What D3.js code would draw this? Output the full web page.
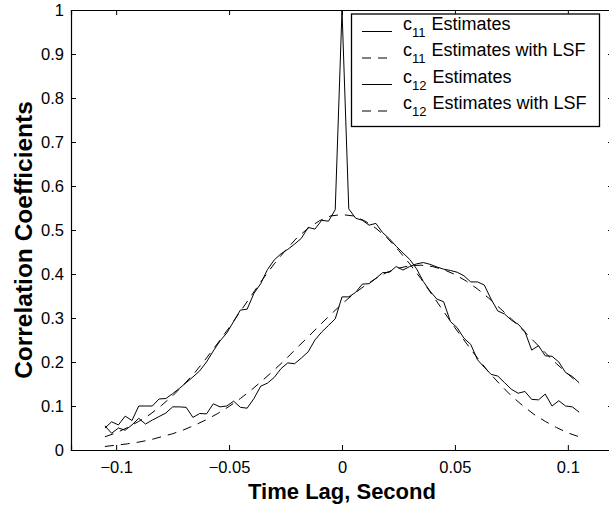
<!DOCTYPE html>
<html>
<head>
<meta charset="utf-8">
<script src="https://cdn.jsdelivr.net/npm/d3@7"></script>
<style>
  html, body { margin: 0; padding: 0; background: #fff; }
  svg { display: block; }
  text { font-family: "Liberation Sans", Arial, Helvetica, sans-serif; fill: #000; }
</style>
</head>
<body>
<svg id="chart" width="609" height="506"></svg>
<script>
// ---------- data ----------
const lags = [-0.105,-0.102,-0.099,-0.096,-0.093,-0.090,-0.087,-0.084,-0.081,-0.078,
  -0.075,-0.072,-0.069,-0.066,-0.063,-0.060,-0.057,-0.054,-0.051,-0.048,
  -0.045,-0.042,-0.039,-0.036,-0.033,-0.030,-0.027,-0.024,-0.021,-0.018,
  -0.015,-0.012,-0.009,-0.006,-0.003,0,
  0.003,0.006,0.009,0.012,0.015,0.018,0.021,0.024,0.027,0.030,
  0.033,0.036,0.039,0.042,0.045,0.048,0.051,0.054,0.057,0.060,
  0.063,0.066,0.069,0.072,0.075,0.078,0.081,0.084,0.087,0.090,
  0.093,0.096,0.099,0.102,0.105];

const c11Estimates = [0.050,0.064,0.057,0.077,0.067,0.100,0.100,0.100,0.116,0.117,
  0.128,0.140,0.153,0.166,0.180,0.200,0.225,0.248,0.266,0.292,
  0.318,0.320,0.356,0.378,0.410,0.432,0.446,0.456,0.468,0.481,
  0.506,0.502,0.522,0.520,0.546,1.000,
  0.548,0.527,0.522,0.511,0.515,0.494,0.480,0.463,0.448,0.433,
  0.412,0.383,0.361,0.343,0.337,0.292,0.278,0.254,0.240,0.205,
  0.188,0.172,0.168,0.153,0.138,0.129,0.133,0.115,0.114,0.127,
  0.100,0.112,0.100,0.098,0.086];

const c12Estimates = [0.055,0.038,0.050,0.045,0.057,0.072,0.059,0.068,0.076,0.084,
  0.098,0.098,0.097,0.074,0.083,0.082,0.105,0.098,0.100,0.111,
  0.097,0.095,0.117,0.145,0.152,0.165,0.185,0.198,0.196,0.209,
  0.223,0.250,0.268,0.283,0.298,0.348,
  0.348,0.358,0.377,0.378,0.390,0.403,0.404,0.417,0.409,0.417,
  0.423,0.426,0.422,0.416,0.411,0.408,0.404,0.396,0.382,0.382,
  0.375,0.343,0.316,0.309,0.295,0.286,0.269,0.227,0.237,0.214,
  0.213,0.200,0.176,0.167,0.153];

const fitLags = [-0.105,-0.100,-0.095,-0.090,-0.085,-0.080,-0.075,-0.070,-0.065,-0.060,
  -0.055,-0.050,-0.045,-0.040,-0.035,-0.030,-0.025,-0.020,-0.015,-0.010,-0.005,0,
  0.005,0.010,0.015,0.020,0.025,0.030,0.035,0.040,0.045,0.050,
  0.055,0.060,0.065,0.070,0.075,0.080,0.085,0.090,0.095,0.100,0.105];

const c11Fit = [0.030,0.039,0.051,0.065,0.081,0.101,0.123,0.149,0.177,0.209,
  0.243,0.278,0.315,0.352,0.389,0.423,0.454,0.482,0.504,0.521,0.532,0.535,
  0.532,0.521,0.504,0.482,0.454,0.423,0.389,0.352,0.315,0.278,
  0.243,0.209,0.177,0.149,0.123,0.101,0.081,0.065,0.051,0.039,0.030];

const c12Fit = [0.008,0.011,0.014,0.018,0.023,0.030,0.037,0.046,0.057,0.069,
  0.083,0.099,0.117,0.137,0.159,0.182,0.206,0.232,0.257,0.283,0.308,0.332,
  0.354,0.373,0.390,0.404,0.413,0.419,0.420,0.417,0.410,0.399,
  0.384,0.366,0.345,0.322,0.298,0.273,0.247,0.221,0.196,0.173,0.150];

const xTicks = [-0.1, -0.05, 0, 0.05, 0.1];
const xTickLabels = ["\u22120.1", "\u22120.05", "0", "0.05", "0.1"];
const yTicks = [0, 0.1, 0.2, 0.3, 0.4, 0.5, 0.6, 0.7, 0.8, 0.9, 1];
const yTickLabels = ["0", "0.1", "0.2", "0.3", "0.4", "0.5", "0.6", "0.7", "0.8", "0.9", "1"];

const legendItems = [
  { sub: "11", text: "Estimates", dashed: false },
  { sub: "11", text: "Estimates with LSF", dashed: true },
  { sub: "12", text: "Estimates", dashed: false },
  { sub: "12", text: "Estimates with LSF", dashed: true }
];

// ---------- layout ----------
const L = 71, R = 613, T = 10, B = 450;
const svg = d3.select("#chart");
const x = d3.scaleLinear().domain([-0.12, 0.12]).range([L, R]);
const y = d3.scaleLinear().domain([0, 1]).range([B, T]);
const tickLen = 5;
const DASH = "9,7";

svg.append("defs").append("clipPath").attr("id", "clip")
  .append("rect").attr("x", L).attr("y", T).attr("width", R - L).attr("height", B - T);

const gB = svg.append("g").attr("transform", `translate(0,${B})`)
  .call(d3.axisBottom(x).tickValues(xTicks).tickSize(-tickLen).tickPadding(11)
    .tickFormat((d, i) => xTickLabels[i]));
const gT = svg.append("g").attr("transform", `translate(0,${T})`)
  .call(d3.axisTop(x).tickValues(xTicks).tickSize(-tickLen).tickFormat(""));
const gL = svg.append("g").attr("transform", `translate(${L},0)`)
  .call(d3.axisLeft(y).tickValues(yTicks).tickSize(-tickLen).tickPadding(7)
    .tickFormat((d, i) => yTickLabels[i]));
const gR = svg.append("g").attr("transform", `translate(${R},0)`)
  .call(d3.axisRight(y).tickValues(yTicks).tickSize(-tickLen).tickFormat(""));

[gB, gT, gL, gR].forEach(g => {
  g.select(".domain").attr("stroke", "#000").attr("stroke-width", 1.2);
  g.selectAll(".tick line").attr("stroke", "#000").attr("stroke-width", 1);
  g.selectAll(".tick text").style("font-size", "16.5px")
    .style("font-family", "'Liberation Sans', Arial, sans-serif").attr("fill", "#000");
});

const plot = svg.append("g").attr("clip-path", "url(#clip)");
const line = d3.line().x(d => x(d[0])).y(d => y(d[1]));

function drawSeries(xs, ys, dashed) {
  plot.append("path")
    .datum(xs.map((v, i) => [v, ys[i]]))
    .attr("d", line)
    .attr("fill", "none")
    .attr("stroke", "#000")
    .attr("stroke-width", 1)
    .attr("stroke-dasharray", dashed ? DASH : null);
}
drawSeries(fitLags, c11Fit, true);
drawSeries(fitLags, c12Fit, true);
drawSeries(lags, c11Estimates, false);
drawSeries(lags, c12Estimates, false);

svg.append("text")
  .attr("x", x(0)).attr("y", 499)
  .attr("text-anchor", "middle")
  .style("font-size", "22px").style("font-weight", "bold")
  .text("Time Lag, Second");

svg.append("text")
  .attr("transform", `translate(32,240) rotate(-90)`)
  .attr("text-anchor", "middle")
  .style("font-size", "24.5px").style("font-weight", "bold")
  .text("Correlation Coefficients");

const lg = svg.append("g");
lg.append("rect")
  .attr("x", 351.5).attr("y", 14).attr("width", 248).attr("height", 112.5)
  .attr("fill", "#fff").attr("stroke", "#000").attr("stroke-width", 1.3);

legendItems.forEach((it, i) => {
  const ly = 31.5 + i * 26.5;
  lg.append("line")
    .attr("x1", 362).attr("x2", 392).attr("y1", ly).attr("y2", ly)
    .attr("stroke", "#000").attr("stroke-width", 1)
    .attr("stroke-dasharray", it.dashed ? DASH : null);
  const t = lg.append("text").attr("x", 403).attr("y", ly - 2).style("font-size", "18px");
  t.append("tspan").text("c");
  t.append("tspan").attr("dy", 7).style("font-size", "13px").text(it.sub);
  t.append("tspan").attr("dy", -7).attr("dx", 6).text(it.text);
});
</script>
</body>
</html>
